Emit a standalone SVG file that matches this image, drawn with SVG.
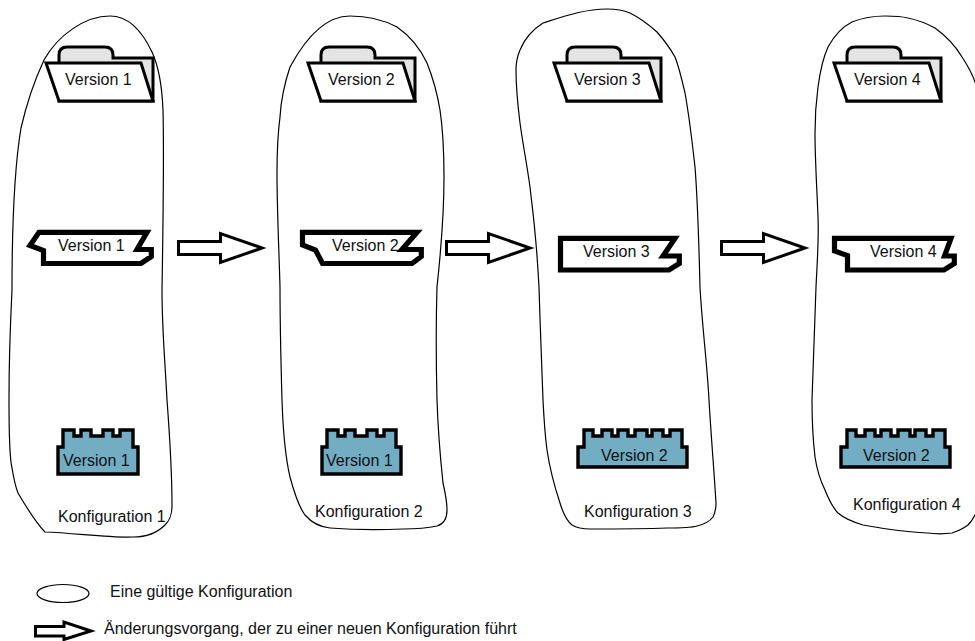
<svg xmlns="http://www.w3.org/2000/svg" width="975" height="641" viewBox="0 0 975 641">
<style>
text{font-family:"Liberation Sans",Arial,sans-serif;font-size:16px;fill:#111}
.blob{fill:none;stroke:#000;stroke-width:1.2}
.tab{fill:#e4e4e4;stroke:#000;stroke-width:3}
.front{fill:#fff;stroke:#000;stroke-width:3}
.note{fill:#fff;stroke:#000;stroke-width:5.2;stroke-linejoin:miter}
.comp{fill:#73adc3;stroke:#000;stroke-width:3.4}
.arrow{fill:#fff;stroke:#000;stroke-width:3}
</style>
<defs>
<g id="folder">
<path class="tab" d="M59,62 V55 Q59,47 67,47 H105 Q113,47 113,55 V58 H153 V101 H59 Z"/>
<path class="front" d="M46,63 H141 L153,101 H59 Z"/>
</g>
<path id="block-arrow" class="arrow" d="M178.500,241.500 H220.500 V233.500 L262,248 L220.500,262.500 V254.500 H178.500 Z"/>
</defs>
<g id="connectors">
<use href="#block-arrow"/>
<use href="#block-arrow" x="268"/>
<use href="#block-arrow" x="543"/>
</g>
<g id="konfiguration-1">
<path class="blob" d="M110,16 C85,16 58,35 44,60 C30,90 24,115 21,128 C14,170 12,240 12,290 C10,330 9,370 9,400 C9,430 10,460 12,468 C14,480 16,488 18,493 C28,510 38,525 45,532 C75,533 110,538 133,537 C145,537 157,533 165,525 C170,520 172,515 172,505 C172,470 170,440 167,400 C165,360 162,330 162,290 C163,230 164,150 163,110 C162,85 158,65 152,52 C143,33 130,16 110,16 Z"/>
<use href="#folder"/>
<text x="65" y="85">Version 1</text>
<path class="note" d="M39,232.300 H147 L137,249.500 H151.300 V256.500 L141,263.500 H43.500 V250.500 L30,245.500 Z"/>
<text x="58" y="251">Version 1</text>
<path class="comp" d="M58,474 V447 H63 V430 H74 V436 H81 V430 H91 V436 H103 V430 H113 V436 H120 V430 H133 V447 H138 V474 Z"/>
<text x="63" y="466">Version 1</text>
<text x="58" y="522">Konfiguration 1</text>
</g>
<g id="konfiguration-2">
<path class="blob" d="M350,16 C330,16 310,30 290,67 C284,85 281,100 280,117 C277,140 277,155 277,173 C277,210 279,250 280,287 C280,330 281,365 282,400 C283,430 286,460 290,477 C294,492 299,507 305,515 C312,523 320,527 330,528 C355,530 380,530 403,529 C415,529 428,528 437,526 C444,524 447,518 447,510 C447,500 445,492 443,483 C440,455 438,430 437,400 C436,360 436,320 437,287 C441,250 444,215 444,177 C444,150 443,130 440,110 C437,92 433,78 427,63 C420,48 410,36 397,27 C382,19 367,16 350,16 Z"/>
<use href="#folder" x="262"/>
<text x="328" y="85">Version 2</text>
<path class="note" d="M302.500,232.300 H417 L402,249.500 H421.300 V256.500 L412,263.500 H322.500 L315.500,250 L302.500,245 Z"/>
<text x="332" y="251">Version 2</text>
<path class="comp" d="M322,474 V447 H327 V430 H338 V436 H345 V430 H355 V436 H367 V430 H377 V436 H384 V430 H396 V447 H401 V474 Z"/>
<text x="326" y="466">Version 1</text>
<text x="315" y="517">Konfiguration 2</text>
</g>
<g id="konfiguration-3">
<path class="blob" d="M607,9 C585,9 565,16 543,23 C532,30 524,40 520,50 C517,57 516,63 516,70 C516,90 518,107 520,123 C523,145 527,165 530,187 C532,205 534,220 535,233 C537,252 538,270 539,287 C540,325 542,365 543,400 C544,420 545,435 547,450 C550,470 555,488 560,503 C563,513 567,521 572,525 C577,528 583,529 590,529 C615,529 642,529 667,528 C680,528 690,528 697,526 C705,524 710,521 713,517 C715,513 716,508 716,503 C714,470 711,435 709,400 C707,362 702,325 700,287 C699,248 698,205 695,167 C692,140 689,115 685,93 C682,80 679,67 675,57 C670,48 664,40 657,32 C648,24 640,18 630,13 C623,10 615,9 607,9 Z"/>
<use href="#folder" x="508"/>
<text x="574" y="85">Version 3</text>
<path class="note" d="M560.500,238.300 H675 L663,256 H679.300 V263.500 L669,270 H560.500 Z"/>
<text x="583" y="257">Version 3</text>
<path class="comp" d="M578,467 V447 H584 V430 H593 V436 H602 V430 H612 V436 H618 V430 H628 V436 H635 V430 H647 V436 H652 V430 H663 V436 H670 V430 H682 V447 H687 V467 Z"/>
<text x="601" y="461">Version 2</text>
<text x="584" y="517">Konfiguration 3</text>
</g>
<g id="konfiguration-4">
<path class="blob" d="M885,16 C872,16 862,18 852,22 C842,27 834,36 828,47 C823,58 820,72 818,87 C816,102 815,117 815,133 C815,160 817,190 818,217 C819,240 817,265 816,287 C815,325 813,362 812,400 C812,420 813,440 815,457 C817,470 821,482 825,490 C829,500 833,508 838,513 C845,519 853,522 863,525 C885,529 905,532 927,533 C936,534 945,534 952,533 C958,531 964,528 968,525 C972,521 974,517 976,513 L990,513 L990,85 L976,85 C973,75 968,66 962,57 C955,45 946,36 935,28 C926,23 917,20 908,18 C900,16 893,16 885,16 Z"/>
<use href="#folder" x="788"/>
<text x="854" y="85">Version 4</text>
<path class="note" d="M834.500,238.300 H951 L944.500,256 H954.300 V263.500 L944,270 H847.500 V255.500 L834.500,251 Z"/>
<text x="870" y="257">Version 4</text>
<path class="comp" d="M841,467 V447 H847 V430 H856 V436 H865 V430 H875 V436 H881 V430 H891 V436 H898 V430 H910 V436 H915 V430 H926 V436 H933 V430 H945 V447 H950 V467 Z"/>
<text x="863" y="461">Version 2</text>
<text x="853" y="510">Konfiguration 4</text>
</g>
<g id="legend">
<ellipse cx="63" cy="593.500" rx="26" ry="9" fill="#fff" stroke="#000" stroke-width="1.200"/>
<text x="110" y="597">Eine gültige Konfiguration</text>
<path class="arrow" d="M35.500,626.500 H64 V622 L91,631 L64,639.500 V636 H35.500 Z"/>
<text x="104" y="634">Änderungsvorgang, der zu einer neuen Konfiguration führt</text>
</g>
</svg>
